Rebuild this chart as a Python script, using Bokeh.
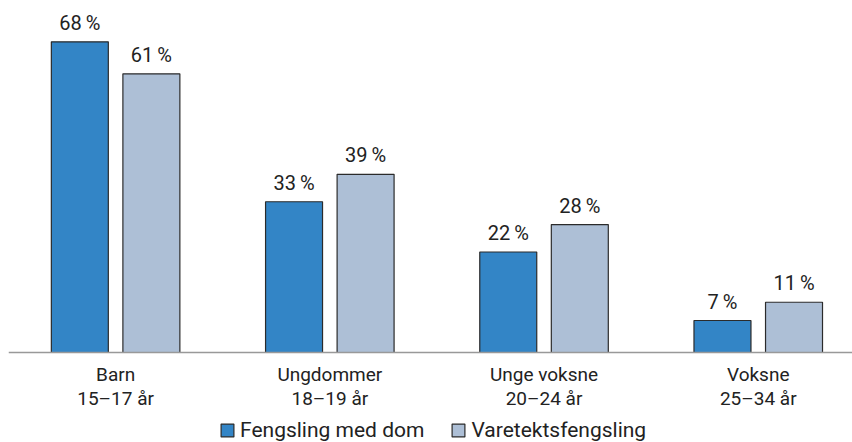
from bokeh.plotting import figure
from bokeh.models import ColumnDataSource, FixedTicker, Legend, LegendItem, Range1d
from bokeh.core.properties import value
from bokeh.embed import file_html
from bokeh.resources import INLINE

categories = ["Barn\n15\u201317 år", "Ungdommer\n18\u201319 år", "Unge voksne\n20\u201324 år", "Voksne\n25\u201334 år"]
series_names = ["Fengsling med dom", "Varetektsfengsling"]
dom = [68, 33, 22, 7]
varetekt = [61, 39, 28, 11]

FONT = "Roboto"
BLUE = "#3385c6"
LIGHT = "#adbfd6"
OUTLINE = "#2b2b2b"

xs = list(range(len(categories)))
off = 0.167
w = 0.266

p = figure(frame_width=844, frame_height=434, output_backend="svg", toolbar_location=None,
           x_range=Range1d(-0.5, 3.44), y_range=Range1d(-19.7, 75.3),
           min_border_left=8, min_border_right=0, min_border_top=8, min_border_bottom=0)
p.outline_line_color = None
p.grid.visible = False
p.yaxis.visible = False
p.background_fill_color = None
p.border_fill_color = "white"

src1 = ColumnDataSource(dict(x=[x - off for x in xs], top=dom, lab=[f"{v}\u2009%" for v in dom]))
src2 = ColumnDataSource(dict(x=[x + off for x in xs], top=varetekt, lab=[f"{v}\u2009%" for v in varetekt]))

r1 = p.vbar(x="x", top="top", width=w, bottom=0, source=src1, fill_color=BLUE, line_color=OUTLINE, line_width=1.2)
r2 = p.vbar(x="x", top="top", width=w, bottom=0, source=src2, fill_color=LIGHT, line_color=OUTLINE, line_width=1.2)

for s in (src1, src2):
    p.text(x="x", y="top", text="lab", source=s, text_align="center", text_baseline="bottom",
           y_offset=-7, text_font=value(FONT), text_font_size="20px", text_color="#222222")

ax = p.xaxis[0]
ax.fixed_location = 0
ax.ticker = FixedTicker(ticks=xs)
ax.major_label_overrides = {i: c for i, c in enumerate(categories)}
ax.major_tick_line_color = None
ax.major_tick_out = 0
ax.minor_tick_line_color = None
ax.axis_line_color = "#999999"
ax.axis_line_width = 1.5
ax.major_label_text_font = FONT
ax.major_label_text_font_size = "19px"
ax.major_label_text_color = "#222222"
ax.major_label_standoff = 10
ax.major_label_text_line_height = 1.05

legend = Legend(items=[LegendItem(label=series_names[0], renderers=[r1]),
                       LegendItem(label=series_names[1], renderers=[r2])],
                orientation="horizontal", location=(211, 0),
                label_text_font=FONT, label_text_font_size="21px", label_text_color="#222222",
                glyph_width=16, glyph_height=16, spacing=26, padding=0, margin=0,
                label_standoff=5, border_line_color=None, background_fill_alpha=0)
p.add_layout(legend, "center")

open("out.html", "w").write(file_html(p, INLINE))
